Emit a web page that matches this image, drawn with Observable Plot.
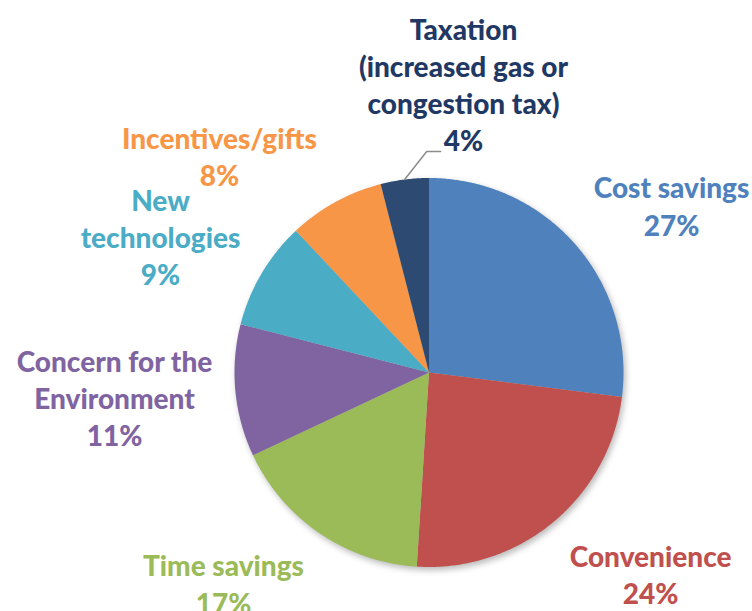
<!DOCTYPE html>
<html>
<head>
<meta charset="utf-8">
<script src="https://cdn.jsdelivr.net/npm/d3@7"></script>
<script src="https://cdn.jsdelivr.net/npm/@observablehq/plot@0.6"></script>
<style>
  html, body { margin: 0; padding: 0; background: #fff; }
  g[aria-description="pie"] { filter: drop-shadow(2px 3px 3px rgba(0,0,0,0.28)); }
</style>
</head>
<body>
<div id="chart"></div>
<script>
// ---- data ----
const categories = ["Cost savings", "Convenience", "Time savings", "Concern for the\nEnvironment", "New\ntechnologies", "Incentives/gifts", "Taxation\n(increased gas or\ncongestion tax)"];
const shares = [27, 24, 17, 11, 9, 8, 4];
const sliceColors = ["#4F81BD", "#C0504D", "#9BBB59", "#8064A2", "#4BACC6", "#F79646", "#2C4A72"];
const labelColors = ["#4F81BD", "#C0504D", "#9BBB59", "#8064A2", "#4BACC6", "#F79646", "#1F3864"];

// ---- layout (label placement in polar units of the pie radius) ----
const labelAngle = [55.4, 132.2, 224.3, 265.5, 296.9, 316.0, 6.8];
const labelRadius = [1.515, 1.538, 1.513, 1.622, 1.548, 1.551, 1.496];

const W = 752, H = 611;
const cx = 428.5, cy = 372, R = 194.5;

const rad = d => d * Math.PI / 180;
const pt = (angDeg, r) => ({x: r * Math.sin(rad(angDeg)), y: r * Math.cos(rad(angDeg))});

const total = d3.sum(shares);
const pieData = [];
let acc = 0;
const mids = [];
shares.forEach((v, i) => {
  const a0 = acc / total * 360, a1 = (acc + v) / total * 360;
  mids.push((a0 + a1) / 2);
  pieData.push({key: i, ...pt(0, 0)});
  const n = Math.max(2, Math.ceil((a1 - a0) / 0.5));
  for (let k = 0; k <= n; k++) pieData.push({key: i, ...pt(a0 + (a1 - a0) * k / n, 1)});
  pieData.push({key: i, ...pt(0, 0)});
  acc += v;
});

const labels = categories.map((c, i) => ({
  text: c + "\n" + shares[i] + "%",
  color: labelColors[i],
  ...pt(labelAngle[i], labelRadius[i])
}));

// leader line for the small Taxation slice
const ti = 6;
const leader = [pt(mids[ti], 1.0), pt(-0.6, 1.136), pt(3.0, 1.138)];

const xDomain = [-cx / R, (W - cx) / R];
const yDomain = [-(H - cy) / R, cy / R];

const plot = Plot.plot({
  width: W, height: H,
  margin: 0,
  x: {domain: xDomain, axis: null},
  y: {domain: yDomain, axis: null},
  marks: [
    Plot.line(pieData, {x: "x", y: "y", z: "key", fill: d => sliceColors[d.key], stroke: "none", curve: "linear", ariaDescription: "pie"}),
    Plot.line(leader, {x: "x", y: "y", stroke: "#8c8c8c", strokeWidth: 1.5}),
    Plot.text(labels, {x: "x", y: "y", text: "text", fill: "color", fontSize: 28, fontWeight: 900, fontFamily: "Lato", lineHeight: 1.33, textAnchor: "middle"})
  ]
});
document.getElementById("chart").appendChild(plot);
</script>
</body>
</html>
